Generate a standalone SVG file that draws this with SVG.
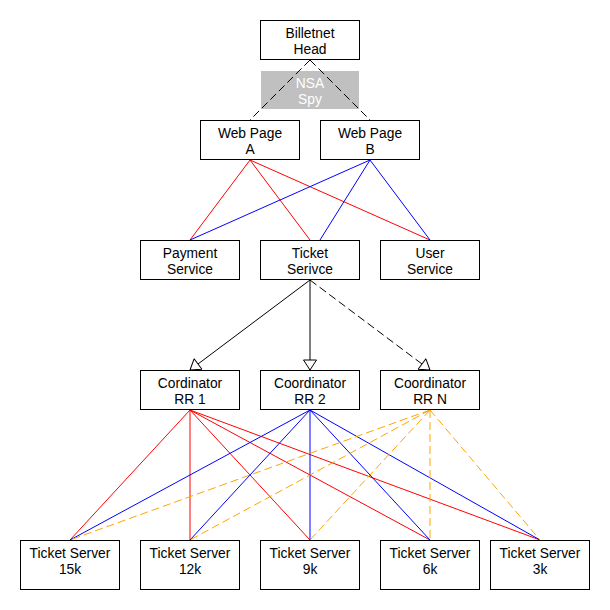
<svg xmlns="http://www.w3.org/2000/svg" width="610" height="610" viewBox="0 0 610 610">
<style>
.box{fill:#fff;stroke:#000;stroke-width:1}
.t{font-family:"Liberation Sans",Arial,sans-serif;font-size:13.8px;fill:#000;text-anchor:middle;dominant-baseline:central}
.r{stroke:#ff0000;stroke-width:1;fill:none}
.b{stroke:#0000ff;stroke-width:1;fill:none}
.o{stroke:#ffa500;stroke-width:1;fill:none;stroke-dasharray:8,4}
.k{stroke:#000;stroke-width:1;fill:none}
.kd{stroke:#000;stroke-width:1;fill:none;stroke-dasharray:8,4}
</style>
<defs>
<marker id="tri" viewBox="0 0 12 14" refX="11" refY="7" markerWidth="12" markerHeight="14" markerUnits="userSpaceOnUse" orient="auto">
<path d="M1,0.5 L11,7 L1,13.5 Z" fill="#fff" stroke="#000" stroke-width="1"/>
</marker>
</defs>
<rect width="610" height="610" fill="#fff"/>
<g id="nsa">
<rect x="261" y="71" width="98" height="38" fill="#c0c0c0"/>
<text class="t" x="310" y="83" style="fill:#fff">NSA</text>
<text class="t" x="310" y="99" style="fill:#fff">Spy</text>
</g>
<g id="connectors">
<line class="kd" x1="310" y1="60" x2="250" y2="120"/>
<line class="kd" x1="310" y1="60" x2="370" y2="120"/>
<line class="r" x1="250" y1="160" x2="190" y2="240"/>
<line class="r" x1="250" y1="160" x2="310" y2="240"/>
<line class="r" x1="250" y1="160" x2="430" y2="240"/>
<line class="b" x1="370" y1="160" x2="190" y2="240"/>
<line class="b" x1="370" y1="160" x2="320" y2="240"/>
<line class="b" x1="370" y1="160" x2="430" y2="240"/>
<line class="k" x1="310" y1="280" x2="190" y2="370" marker-end="url(#tri)"/>
<line class="k" x1="310" y1="280" x2="310" y2="370" marker-end="url(#tri)"/>
<line class="kd" x1="310" y1="280" x2="430" y2="370" marker-end="url(#tri)"/>
<line class="r" x1="190" y1="410" x2="70" y2="540"/>
<line class="r" x1="190" y1="410" x2="190" y2="540"/>
<line class="r" x1="190" y1="410" x2="310" y2="540"/>
<line class="r" x1="190" y1="410" x2="430" y2="540"/>
<line class="r" x1="190" y1="410" x2="540" y2="540"/>
<line class="b" x1="310" y1="410" x2="70" y2="540"/>
<line class="b" x1="310" y1="410" x2="190" y2="540"/>
<line class="b" x1="310" y1="410" x2="310" y2="540"/>
<line class="b" x1="310" y1="410" x2="430" y2="540"/>
<line class="b" x1="310" y1="410" x2="540" y2="540"/>
<line class="o" x1="430" y1="410" x2="70" y2="540"/>
<line class="o" x1="430" y1="410" x2="190" y2="540"/>
<line class="o" x1="430" y1="410" x2="310" y2="540"/>
<line class="o" x1="430" y1="410" x2="430" y2="540"/>
<line class="o" x1="430" y1="410" x2="540" y2="540"/>
</g>
<g id="head"><rect class="box" x="260.5" y="20.5" width="99" height="39"/><text class="t" x="310" y="33">Billetnet</text><text class="t" x="310" y="49">Head</text></g>
<g id="webA"><rect class="box" x="200.5" y="120.5" width="99" height="39"/><text class="t" x="250" y="133">Web Page</text><text class="t" x="250" y="149">A</text></g>
<g id="webB"><rect class="box" x="320.5" y="120.5" width="99" height="39"/><text class="t" x="370" y="133">Web Page</text><text class="t" x="370" y="149">B</text></g>
<g id="payment"><rect class="box" x="140.5" y="240.5" width="99" height="39"/><text class="t" x="190" y="253">Payment</text><text class="t" x="190" y="269">Service</text></g>
<g id="ticket"><rect class="box" x="260.5" y="240.5" width="99" height="39"/><text class="t" x="310" y="253">Ticket</text><text class="t" x="310" y="269">Serivce</text></g>
<g id="user"><rect class="box" x="380.5" y="240.5" width="99" height="39"/><text class="t" x="430" y="253">User</text><text class="t" x="430" y="269">Service</text></g>
<g id="rr1"><rect class="box" x="140.5" y="370.5" width="99" height="39"/><text class="t" x="190" y="383">Cordinator</text><text class="t" x="190" y="399">RR 1</text></g>
<g id="rr2"><rect class="box" x="260.5" y="370.5" width="99" height="39"/><text class="t" x="310" y="383">Coordinator</text><text class="t" x="310" y="399">RR 2</text></g>
<g id="rrn"><rect class="box" x="380.5" y="370.5" width="99" height="39"/><text class="t" x="430" y="383">Coordinator</text><text class="t" x="430" y="399">RR N</text></g>
<g id="ts15"><rect class="box" x="20.5" y="540.5" width="99" height="49"/><text class="t" x="70" y="553">Ticket Server</text><text class="t" x="70" y="569">15k</text></g>
<g id="ts12"><rect class="box" x="140.5" y="540.5" width="99" height="49"/><text class="t" x="190" y="553">Ticket Server</text><text class="t" x="190" y="569">12k</text></g>
<g id="ts9"><rect class="box" x="260.5" y="540.5" width="99" height="49"/><text class="t" x="310" y="553">Ticket Server</text><text class="t" x="310" y="569">9k</text></g>
<g id="ts6"><rect class="box" x="380.5" y="540.5" width="99" height="49"/><text class="t" x="430" y="553">Ticket Server</text><text class="t" x="430" y="569">6k</text></g>
<g id="ts3"><rect class="box" x="490.5" y="540.5" width="99" height="49"/><text class="t" x="540" y="553">Ticket Server</text><text class="t" x="540" y="569">3k</text></g>
</svg>
